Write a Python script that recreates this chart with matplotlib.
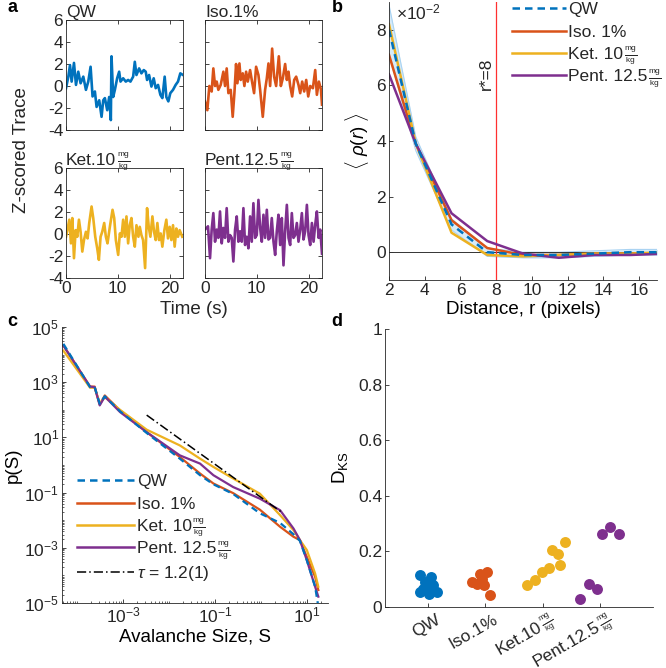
import matplotlib
matplotlib.use('Agg')
import matplotlib.pyplot as plt
from matplotlib.ticker import LogLocator, NullFormatter
from matplotlib.lines import Line2D
import numpy as np

plt.rcParams['font.family'] = ['Liberation Sans', 'DejaVu Sans']
plt.rcParams['mathtext.fontset'] = 'custom'
plt.rcParams['mathtext.rm'] = 'Liberation Sans'
plt.rcParams['mathtext.it'] = 'Liberation Sans:italic'
plt.rcParams['mathtext.bf'] = 'Liberation Sans:bold'
plt.rcParams['axes.unicode_minus'] = False
plt.rcParams['xtick.direction'] = 'in'
plt.rcParams['ytick.direction'] = 'in'
plt.rcParams['axes.edgecolor'] = '#262626'
plt.rcParams['xtick.color'] = '#262626'
plt.rcParams['ytick.color'] = '#262626'
plt.rcParams['text.color'] = '#262626'

BLUE, RED, YEL, PUR = '#0072BD', '#D95319', '#EDB120', '#7E2F8E'
FS = 12.5
FRAC = r'$\frac{\mathrm{mg}}{\mathrm{kg}}$'

# ---- panel a: z-scored traces (time in s, value) ----
qw_t = [0.0, 0.45, 0.77, 1.09, 1.54, 1.93, 2.37, 2.82, 3.34, 3.85, 4.30, 4.75, 5.13, 5.58,
        5.91, 6.42, 6.87, 7.19, 7.51, 7.96, 8.34, 8.66, 8.79, 9.11, 9.44, 9.88, 10.27, 10.53,
        11.04, 11.55, 12.0, 12.45, 12.97, 13.29, 13.61, 14.12, 14.57, 15.02, 15.40, 15.66,
        16.05, 16.50, 16.94, 17.33, 17.78, 18.23, 18.61, 19.06, 19.38, 19.77, 20.15, 20.67,
        21.18, 21.63, 22.08, 22.6]
qw_v = [-0.2, 0.85, 1.9, 0.4, 2.1, 0.1, 1.3, 0.25, 0.85, -0.35, 0.4, 1.75, -0.95, -0.5,
        -1.9, -1.3, -2.8, -1.3, -1.1, -2.2, -1.0, -3.1, 2.7, -1.0, -0.35, 0.7, 1.3, 0.4,
        0.7, 0.4, 0.55, 0.4, 0.85, 2.2, 1.0, 1.6, 1.15, 1.45, 1.3, 0.55,
        1.0, -0.05, 0.7, -0.2, 0.1, -0.8, -1.1, 0.85, -1.0, -1.4, -0.65, -0.35,
        0.1, 0.4, 1.15, 1.0]

iso_t = [0.0, 0.45, 0.84, 1.29, 1.61, 1.94, 2.26, 2.58, 3.03, 3.55, 3.87, 4.19, 4.52, 4.97,
         5.35, 5.68, 6.0, 6.26, 6.65, 6.90, 7.29, 7.61, 7.94, 8.26, 8.71, 9.03, 9.48, 9.87,
         10.32, 10.65, 11.16, 11.61, 11.94, 12.26, 12.58, 12.97, 13.35, 13.74, 14.26, 14.65,
         15.03, 15.48, 15.81, 16.13, 16.45, 16.84, 17.23, 17.61, 18.06, 18.39, 18.77, 19.16,
         19.55, 19.94, 20.32, 20.84, 21.29, 21.61, 22.0, 22.39, 22.6]
iso_v = [-1.4, -2.2, 0.0, -0.5, 1.6, 0.0, 0.4, -0.35, 0.1, 1.3, 0.0, 1.6, -0.65, -0.35,
         -2.8, -0.65, 2.0, 0.25, 2.05, 0.55, 1.15, 0.0, 1.3, 0.4, 1.45, 0.55, -0.65, 1.75,
         1.0, -0.35, -2.8, -0.35, 0.7, 2.05, 0.0, 3.4, 0.85, 0.0, 2.7, 0.0,
         0.7, 2.0, 0.55, 1.3, 0.0, -0.95, 0.55, 0.85, 0.1, -0.65, 0.4, -0.5,
         0.55, -0.95, 0.0, -0.2, 1.45, -0.8, 0.4, -0.3, -1.7]

ket_t = [0.0, 0.26, 0.64, 0.96, 1.22, 1.54, 1.86, 2.18, 2.50, 2.82, 3.15, 3.47, 3.85, 4.17,
         4.49, 4.94, 5.26, 5.65, 6.03, 6.35, 6.68, 7.0, 7.38, 7.70, 8.02, 8.47, 8.99, 9.31,
         9.63, 10.08, 10.40, 10.72, 11.04, 11.36, 11.68, 12.0, 12.32, 12.64, 12.97, 13.29,
         13.61, 13.99, 14.25, 14.57, 14.89, 15.28, 15.66, 15.98, 16.30, 16.69, 17.01, 17.33,
         17.65, 17.97, 18.29, 18.61, 19.0, 19.38, 19.70, 20.03, 20.35, 20.67, 20.99, 21.31,
         21.63, 21.95, 22.46]
ket_v = [-0.25, 0.35, 1.3, -0.85, 1.45, -2.2, 0.35, -0.25, 1.3, 0.2, -1.6, -0.55, 0.2, -0.4,
         1.0, 2.5, 1.45, -0.25, -1.3, -2.35, -0.25, 0.2, 1.0, -0.25, -0.85, 0.65, 2.2, 1.45,
         -0.55, -1.9, 0.05, -0.25, 1.3, -0.25, 1.6, -0.85, 0.8, 1.45, -0.25, -1.15,
         0.8, -0.25, 0.65, -0.1, -0.55, -3.1, 2.35, 0.65, -0.25, 1.6, 0.2, -0.55,
         1.0, -0.55, 0.05, -1.15, 0.35, 1.3, -0.4, 0.65, -0.55, 0.8, -1.15, 0.5,
         -0.25, 0.35, -0.25]

pent_t = [0.0, 0.58, 0.97, 1.29, 1.61, 1.94, 2.26, 2.58, 2.90, 3.23, 3.55, 3.87, 4.19, 4.52,
          4.84, 5.16, 5.48, 5.81, 6.13, 6.45, 6.77, 7.10, 7.42, 7.74, 8.06, 8.39, 8.71, 9.03,
          9.35, 9.68, 10.0, 10.32, 10.65, 10.97, 11.29, 11.61, 11.94, 12.26, 12.58, 12.90,
          13.23, 13.55, 13.87, 14.19, 14.52, 14.84, 15.16, 15.48, 15.81, 16.13, 16.45, 16.77,
          17.10, 17.42, 17.74, 18.06, 18.39, 18.71, 19.03, 19.35, 19.68, 20.0, 20.32, 20.65,
          20.97, 21.29, 21.61, 21.94, 22.26, 22.6]
pent_v = [0.4, 0.7, -2.2, 0.4, 1.9, -0.7, 0.4, -0.35, 2.05, -0.85, 0.55, -0.35, 2.35, -0.7,
          -0.1, -0.35, -2.5, 0.4, 1.6, -0.7, 0.25, -0.7, 2.35, -1.0, -0.25, -1.3, 1.6, -0.7,
          2.8, -0.35, -0.1, 3.1, 0.55, -0.7, 1.75, -0.35, 2.2, -0.5, -0.35, 1.45,
          -0.7, -1.9, 0.25, 1.75, -1.0, 1.45, -2.85, 0.25, 2.65, -0.35, -1.0, 1.9,
          -0.35, -0.1, 1.0, -0.7, 0.4, 1.9, -0.5, 0.25, 2.65, -0.1, -1.0, 1.0,
          -0.7, 0.85, 2.05, -0.35, 0.4, -1.8]

# (label, has mg/kg fraction)
trace_titles = [('QW', False), ('Iso.1%', False), ('Ket.10', True), ('Pent.12.5', True)]

# ---- panel b: spatial correlation (units of 1e-2) ----
r_pix = [2, 3.5, 5.5, 7.5, 9.5, 11.5, 13.5, 15.5, 17.5]
rho_qw = [8.0, 3.9, 1.0, 0.0, -0.1, -0.1, -0.05, 0.0, 0.0]
rho_qw_err = [0.9, 0.25, 0.2, 0.15, 0.1, 0.1, 0.1, 0.1, 0.1]
rho_iso = [7.1, 3.9, 1.15, 0.15, -0.1, -0.1, -0.05, -0.05, -0.05]
rho_ket = [8.2, 3.9, 0.7, -0.1, -0.15, -0.1, -0.05, -0.05, 0.0]
rho_pent = [6.4, 3.9, 1.4, 0.4, -0.05, -0.2, -0.1, -0.1, -0.05]
r_star = 8

# ---- panel c: avalanche size distributions (log10 values) ----
logS = [-4.30, -3.72, -3.62, -3.51, -3.40, -3.07, -2.49, -1.77, -1.33, -1.04, -0.61,
        -0.03, 0.41, 0.70, 0.84, 0.99, 1.17, 1.24]
logp_qw = [4.39, 2.82, 2.82, 2.22, 2.49, 1.95, 1.16, 0.23, -0.37, -0.70, -1.05,
           -1.75, -2.10, -2.51, -2.75, -3.45, -4.41, -5.13]
logp_iso = [4.33, 2.84, 2.84, 2.19, 2.52, 1.98, 1.19, 0.29, -0.31, -0.67, -1.02,
            -1.62, -2.24, -2.60, -2.72, -3.33, -4.05, -4.53]
logp_ket = [4.14, 2.80, 2.80, 2.22, 2.46, 2.00, 1.28, 0.71, 0.23, -0.07, -0.49,
            -1.04, -1.82, -2.36, -2.72, -3.08, -3.93, -4.41]
logp_pent = [4.33, 2.84, 2.82, 2.16, 2.48, 1.92, 1.19, 0.35, 0.05, -0.37, -0.80,
             -1.22, -1.64, -2.30, -2.72, -3.45, -4.41, -4.77]
tau = 1.2
fit_logA = -1.18
fit_logS = [-2.49, 0.44]

# ---- panel d: KS distances ----
ks_x = {
    'QW': [0.86, 1.06, 0.95, 1.09, 0.86, 1.01, 1.15, 1.03, 0.92],
    'Iso': [1.76, 1.85, 1.91, 2.02, 1.97, 2.08, 1.94],
    'Ket': [2.72, 2.87, 2.98, 3.10, 3.16, 3.27, 3.30, 3.39],
    'Pent': [3.65, 3.80, 3.94, 4.03, 4.17, 4.32],
}
ks_y = {
    'QW': [0.114, 0.108, 0.090, 0.078, 0.054, 0.048, 0.054, 0.072, 0.066],
    'Iso': [0.090, 0.084, 0.120, 0.126, 0.078, 0.042, 0.102],
    'Ket': [0.078, 0.096, 0.126, 0.141, 0.204, 0.192, 0.150, 0.234],
    'Pent': [0.030, 0.081, 0.066, 0.261, 0.287, 0.261],
}
ks_labels = [('QW', False), ('Iso.1%', False), ('Ket.10', True), ('Pent.12.5', True)]

W, H = 666, 668


def px(l, t, r, b):
    return [l / W, 1 - b / H, (r - l) / W, (b - t) / H]


def fig_xy(x, y):
    return x / W, y / H


fig = plt.figure(figsize=(W / 100, H / 100), dpi=100)

# panel a
boxes = [px(66, 20, 183, 130), px(205, 20, 322, 130), px(66, 168, 183, 278), px(205, 168, 322, 278)]
traces = [(qw_t, qw_v, BLUE), (iso_t, iso_v, RED), (ket_t, ket_v, YEL), (pent_t, pent_v, PUR)]
title_artists = []
for i, (box, (t, v, c)) in enumerate(zip(boxes, traces)):
    ax = fig.add_axes(box)
    ax.plot(t, v, color=c, lw=1.9)
    ax.set_xlim(0, 22.6)
    ax.set_ylim(-4, 6)
    ax.set_xticks([0, 10, 20])
    ax.set_yticks([-4, -2, 0, 2, 4, 6])
    ax.tick_params(top=True, right=True, length=3, width=0.6, labelsize=FS, pad=2)
    for s in ax.spines.values():
        s.set_linewidth(0.6)
    if i % 2 == 1:
        ax.set_yticklabels([])
    if i < 2:
        ax.set_xticklabels([])
    tt = ax.set_title(trace_titles[i][0], loc='left', fontsize=FS, pad=2)
    if trace_titles[i][1]:
        title_artists.append(tt)

fig.text(22 / W, 1 - 150 / H, 'Z-scored Trace', rotation=90, ha='center', va='center', fontsize=13.5)
fig.text(194 / W, 1 - 310 / H, 'Time (s)', ha='center', va='center', fontsize=13.5)

# panel b
axb = fig.add_axes(px(389, 2, 657, 280))
lo = np.array(rho_qw) - np.array(rho_qw_err)
hi = np.array(rho_qw) + np.array(rho_qw_err)
axb.fill_between(r_pix, lo, hi, color='#d6ebf9', lw=0)
axb.plot(r_pix, lo, color='#a9d3f2', lw=0.8)
axb.plot(r_pix, hi, color='#a9d3f2', lw=0.8)
axb.axhline(0, color='#333333', lw=0.7)
axb.axvline(r_star, color='#ff3030', lw=0.9)
axb.plot(r_pix, rho_iso, color=RED, lw=1.8)
axb.plot(r_pix, rho_ket, color=YEL, lw=1.8)
axb.plot(r_pix, rho_pent, color=PUR, lw=1.8)
axb.plot(r_pix, rho_qw, color=BLUE, lw=1.8, ls=(0, (3, 2)))
axb.set_xlim(2, 17)
axb.set_ylim(-1, 9)
axb.set_xticks([2, 4, 6, 8, 10, 12, 14, 16])
axb.set_yticks([0, 2, 4, 6, 8])
axb.tick_params(length=3, width=0.6, labelsize=FS, pad=2)
for s in ['top', 'right']:
    axb.spines[s].set_visible(False)
axb.spines['left'].set_linewidth(0.6)
axb.spines['bottom'].set_linewidth(0.6)
axb.set_xlabel('Distance, r (pixels)', fontsize=13.5, labelpad=2)
axb.set_ylabel(r'$\langle\ \rho(r)\ \rangle$', fontsize=13.5, labelpad=4)
axb.text(7.45, 6.4, 'r*=8', rotation=90, ha='center', va='center', fontsize=FS)
fig.text(396 / W, 1 - 12 / H, r'$\times$10$^{-2}$', ha='left', va='center', fontsize=FS)
hb = [Line2D([], [], color=BLUE, lw=1.8, ls=(0, (3, 2))),
      Line2D([], [], color=RED, lw=1.8),
      Line2D([], [], color=YEL, lw=1.8),
      Line2D([], [], color=PUR, lw=1.8)]
lb = ['QW', 'Iso. 1%', 'Ket. 10', 'Pent. 12.5']
leg_b = fig.legend(hb, lb, loc='upper left', bbox_to_anchor=(512 / W, 1 - 2 / H), frameon=False,
                   fontsize=FS, handlelength=3.1, handletextpad=0.15, labelspacing=0.42,
                   borderpad=0, borderaxespad=0)

# panel c
axc = fig.add_axes(px(62, 327, 328, 603))
S = 10 ** np.array(logS)
axc.plot(S, 10 ** np.array(logp_iso), color=RED, lw=1.6)
axc.plot(S, 10 ** np.array(logp_ket), color=YEL, lw=1.6)
axc.plot(S, 10 ** np.array(logp_pent), color=PUR, lw=1.6)
axc.plot(S, 10 ** np.array(logp_qw), color=BLUE, lw=1.6, ls=(0, (3, 2)))
fs_ = 10 ** np.array(fit_logS)
axc.plot(fs_, 10 ** fit_logA * fs_ ** (-tau), color='k', lw=1.1, ls=(0, (6, 2, 1, 2)))
axc.set_xscale('log')
axc.set_yscale('log')
axc.set_xlim(10 ** -4.33, 10 ** 1.45)
axc.set_ylim(1e-5, 1e5)
axc.set_xticks([1e-3, 1e-1, 1e1])
axc.set_yticks([1e-5, 1e-3, 1e-1, 1e1, 1e3, 1e5])
axc.xaxis.set_minor_locator(LogLocator(base=10, subs=np.arange(1, 10), numticks=100))
axc.yaxis.set_minor_locator(LogLocator(base=10, subs=np.arange(1, 10), numticks=100))
axc.xaxis.set_minor_formatter(NullFormatter())
axc.yaxis.set_minor_formatter(NullFormatter())
axc.tick_params(which='major', length=3, width=0.6, labelsize=FS, pad=2)
axc.tick_params(which='minor', length=1.6, width=0.5)
for s in ['top', 'right']:
    axc.spines[s].set_visible(False)
axc.spines['left'].set_linewidth(0.6)
axc.spines['bottom'].set_linewidth(0.6)
axc.set_xlabel('Avalanche Size, S', fontsize=13.5, labelpad=2)
axc.set_ylabel('p(S)', fontsize=13.5, labelpad=2)
hc = hb + [Line2D([], [], color='k', lw=1.1, ls=(0, (6, 2, 1, 2)))]
lc = lb + [r'$\tau$ = 1.2(1)']
leg_c = fig.legend(hc, lc, loc='upper left', bbox_to_anchor=(77 / W, 1 - 474 / H), frameon=False,
                   fontsize=FS, handlelength=3.3, handletextpad=0.15, labelspacing=0.42,
                   borderpad=0, borderaxespad=0)

# panel d
axd = fig.add_axes(px(385, 329, 653, 607))
for key, c in zip(['QW', 'Iso', 'Ket', 'Pent'], [BLUE, RED, YEL, PUR]):
    axd.scatter(ks_x[key], ks_y[key], s=62, color=c, lw=0, zorder=3)
axd.set_xlim(0.25, 4.92)
axd.set_ylim(0, 1)
axd.set_yticks([0, 0.2, 0.4, 0.6, 0.8, 1])
axd.set_yticklabels(['0', '0.2', '0.4', '0.6', '0.8', '1'])
axd.set_xticks([1, 2, 3, 4])
axd.set_xticklabels([])
axd.tick_params(length=3, width=0.6, labelsize=FS, pad=2)
for s in ['top', 'right']:
    axd.spines[s].set_visible(False)
axd.spines['left'].set_linewidth(0.6)
axd.spines['bottom'].set_linewidth(0.6)
axd.set_ylabel(r'D$_{\mathrm{KS}}$', fontsize=13.5, labelpad=6)

# panel letters
for lab, x, y in [('a', 12, 8), ('b', 337, 8), ('c', 12, 322), ('d', 337, 322)]:
    fig.text(x / W, 1 - y / H, lab, fontsize=13, fontweight='bold', ha='center', va='center',
             color='k')

# small mg/kg fractions after labels
fig.canvas.draw()
rend = fig.canvas.get_renderer()
FFS = FS * 0.68


def add_frac(txt):
    bb = txt.get_window_extent(rend)
    fig.text(*fig_xy(bb.x1 + 0.5, bb.y0 + 0.42 * bb.height), FRAC, fontsize=FFS,
             ha='left', va='center')


for tt in title_artists:
    add_frac(tt)
for leg in (leg_b, leg_c):
    for tx in leg.get_texts()[2:4]:
        add_frac(tx)

# rotated category labels for panel d
ang = np.deg2rad(30)
u = np.array([np.cos(ang), np.sin(ang)])
n = np.array([np.sin(ang), -np.cos(ang)])
for k, (main, has_frac) in enumerate(ks_labels):
    tmp = fig.text(0, 0, main, fontsize=FS)
    bbm = tmp.get_window_extent(rend)
    tmp.remove()
    wf = 0
    if has_frac:
        tmpf = fig.text(0, 0, FRAC, fontsize=FFS)
        wf = tmpf.get_window_extent(rend).width + 1
        tmpf.remove()
    xd, yd = axd.transData.transform((k + 1, 0))
    A = np.array([xd + 7, yd - 5])
    C = A + n * bbm.height / 2
    pm = C - u * wf
    fig.text(*fig_xy(*pm), main, fontsize=FS, rotation=30, rotation_mode='anchor',
             ha='right', va='center')
    if has_frac:
        pf = C + n * 1.5
        fig.text(*fig_xy(*pf), FRAC, fontsize=FFS, rotation=30, rotation_mode='anchor',
                 ha='right', va='center')

fig.savefig('out.png', dpi=100)
